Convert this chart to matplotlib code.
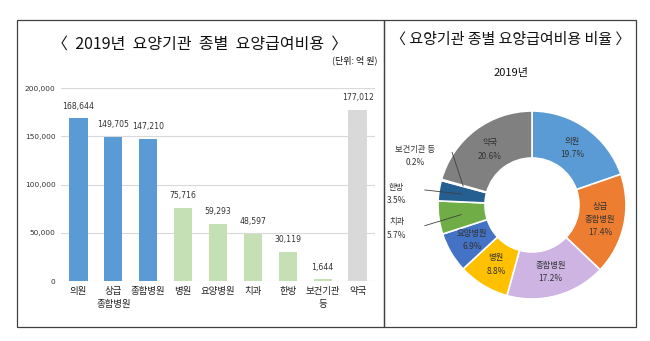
import numpy as np
import matplotlib.pyplot as plt
from matplotlib.patches import Rectangle

plt.rcParams['font.family'] = ['Noto Sans CJK KR', 'DejaVu Sans']

# -----------------------------
# Data
# -----------------------------
bar_labels = ['의원', '상급\n종합병원', '종합병원', '병원', '요양병원', '치과', '한방', '보건기관\n등', '약국']
bar_values = [168644, 149705, 147210, 75716, 59293, 48597, 30119, 1644, 177012]
bar_colors = ['#5B9BD5'] * 3 + ['#C5E0B4'] * 5 + ['#D9D9D9']

pie_labels = ['의원', '상급\n종합병원', '종합병원', '병원', '요양병원', '치과', '한방', '보건기관 등', '약국']
pie_shares = [19.7, 17.4, 17.2, 8.8, 6.9, 5.7, 3.5, 0.2, 20.6]
pie_colors = ['#5B9BD5', '#ED7D31', '#CDB4E2', '#FFC000', '#4472C4', '#70AD47', '#255E91', '#9E480E', '#808080']

yticks = [0, 50000, 100000, 150000, 200000]

fig = plt.figure(figsize=(6.5, 3.41), dpi=100)

# -----------------------------
# Frames
# -----------------------------
W, H = 650, 341
for x0, x1 in [(17, 384), (384, 636)]:
    fig.patches.append(Rectangle((x0 / W, 1 - 327 / H), (x1 - x0) / W, 307 / H,
                                 transform=fig.transFigure, fill=False,
                                 edgecolor='#404040', linewidth=0.9))

# -----------------------------
# Bar chart
# -----------------------------
ax = fig.add_axes([61 / W, 1 - 281 / H, 314 / W, 193 / H])
x = np.arange(len(bar_values))
bars = ax.bar(x, bar_values, width=0.52, color=bar_colors, zorder=2)
ax.set_xlim(-0.5, 8.5)
ax.set_ylim(0, 200000)
ax.set_yticks(yticks)
ax.set_yticklabels([f'{v:,}' for v in yticks], fontsize=5.3, color='#333333',
                   family='DejaVu Sans')
ax.set_xticks(x)
ax.set_xticklabels(bar_labels, fontsize=6.8, color='#222222', linespacing=1.6)
ax.tick_params(length=0, pad=4)
ax.grid(axis='y', color='#D9D9D9', linewidth=0.8, zorder=0)
for s in ax.spines.values():
    s.set_visible(False)
for b, v in zip(bars, bar_values):
    ax.text(b.get_x() + b.get_width() / 2, v + 8000, f'{v:,}', ha='center',
            va='bottom', fontsize=5.6, color='#333333', family='DejaVu Sans')

fig.text(200 / W, 1 - 44 / H, '〈  2019년  요양기관  종별  요양급여비용  〉', ha='center',
         va='center', fontsize=11.5, color='#111111')
fig.text(377 / W, 1 - 60 / H, '(단위: 억 원)', ha='right', va='center',
         fontsize=6.5, color='#111111')

# -----------------------------
# Donut chart
# -----------------------------
fig.text(511 / W, 1 - 40 / H, '〈 요양기관 종별 요양급여비용 비율 〉', ha='center',
         va='center', fontsize=10.8, color='#111111')
fig.text(511 / W, 1 - 73 / H, '2019년', ha='center', va='center',
         fontsize=8, color='#111111')

r = 94
pax = fig.add_axes([(532 - r) / W, 1 - (205 + r) / H, 2 * r / W, 2 * r / H])
wedges, _ = pax.pie(pie_shares, colors=pie_colors, startangle=90, counterclock=False,
                    radius=1.0, wedgeprops=dict(width=0.5, edgecolor='white', linewidth=1.2))
pax.set_aspect('equal')
pax.set_xlim(-1, 1)
pax.set_ylim(-1, 1)

# text position, leader line start
outside = {
    '치과': ((-1.44, -0.25), (-1.14, -0.22)),
    '한방': ((-1.44, 0.12), (-1.14, 0.16)),
    '보건기관 등': ((-1.24, 0.52), (-0.85, 0.56)),
}
for w, lab, sh in zip(wedges, pie_labels, pie_shares):
    ang = np.deg2rad((w.theta1 + w.theta2) / 2)
    if lab in outside:
        (tx, ty), (sx, sy) = outside[lab]
        px, py = 0.76 * np.cos(ang), 0.76 * np.sin(ang)
        pax.text(tx, ty, f'{lab}\n{sh}%', ha='center', va='center', fontsize=6,
                 color='#333333', linespacing=1.6, clip_on=False)
        pax.plot([sx, px], [sy, py], color='#404040', lw=0.6, clip_on=False)
    else:
        px, py = 0.74 * np.cos(ang), 0.74 * np.sin(ang)
        pax.text(px, py, f'{lab}\n{sh}%', ha='center', va='center', fontsize=6,
                 color='#333333', linespacing=1.6)

plt.savefig('out.png', dpi=100)
